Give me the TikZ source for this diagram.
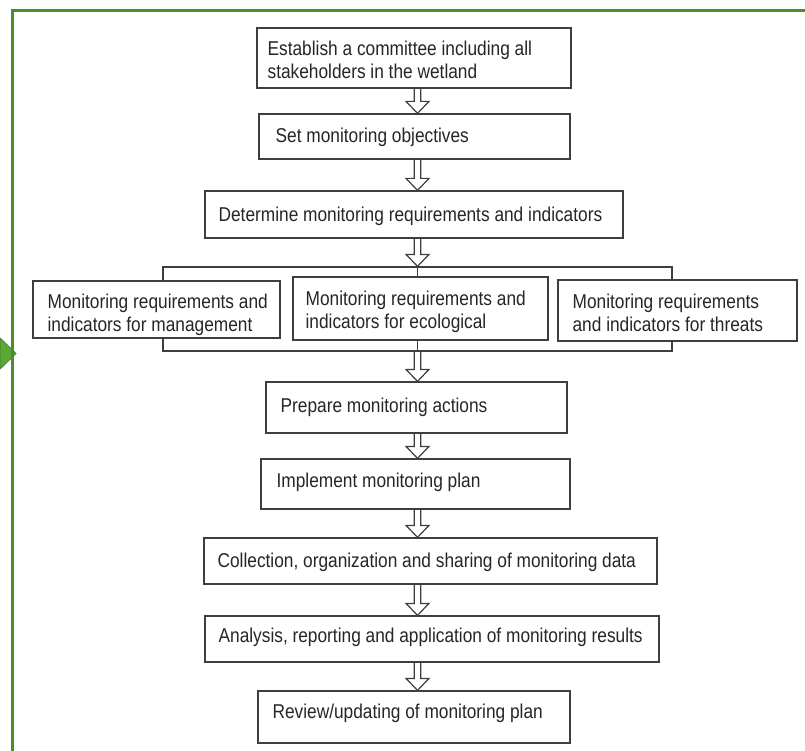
\documentclass[tikz,border=0pt]{standalone}
\usepackage{fontspec}
\setmainfont[FakeStretch=0.865]{Liberation Sans}
\usetikzlibrary{calc}

\definecolor{framegreen}{RGB}{76,140,43}
\definecolor{tabgreen}{RGB}{90,168,55}
\definecolor{boxgray}{RGB}{62,62,62}
\definecolor{textgray}{RGB}{38,38,38}

\tikzset{every picture/.style={line width=1.2pt}}
\tikzset{
  stagebox/.style={draw=boxgray, fill=white, inner sep=0pt},
  stagetext/.style={anchor=north west, inner sep=0pt, align=left, text=textgray, font=\fontsize{20}{23}\selectfont},
  thinlink/.style={draw=boxgray},
  hollowarrow/.style={draw=boxgray, to path={
    ($(\tikztostart)+(-3.25,0)$) -- ($(\tikztotarget)+(-3.25,-12)$) -- ($(\tikztotarget)+(-11.5,-12)$) -- (\tikztotarget) -- ($(\tikztotarget)+(11.5,-12)$) -- ($(\tikztotarget)+(3.25,-12)$) -- ($(\tikztostart)+(3.25,0)$)}},
}

\begin{document}
\begin{tikzpicture}[x=1pt,y=1pt,yscale=-1,xscale=1]
\useasboundingbox (0,0) rectangle (805,751);

%Shape: Frame tab
\filldraw [fill=tabgreen, draw=framegreen, line width=1pt] (0,338) -- (16,353.5) -- (0,369) -- cycle ;
%Shape: Frame
\draw [framegreen, line width=3pt] (12.5,770) -- (12.5,10.5) -- (820,10.5) ;

%Coordinate: arrow spine
\coordinate (spine) at (417.5,0) ;

%Shape: Boxes
\node [stagebox, minimum width=314pt, minimum height=60pt] (establish) at (414,58) {};
\node [stagebox, minimum width=311pt, minimum height=45pt] (objectives) at (414.5,136.5) {};
\node [stagebox, minimum width=418pt, minimum height=47pt] (determine) at (414,214.5) {};
\node [stagebox, minimum width=509pt, minimum height=84pt] (group) at (417.5,309) {};
\node [stagebox, minimum width=247pt, minimum height=57pt] (management) at (156.5,309.5) {};
\node [stagebox, minimum width=255pt, minimum height=63pt] (ecological) at (420.5,308.5) {};
\node [stagebox, minimum width=239pt, minimum height=61pt] (threats) at (677.5,310.5) {};
\node [stagebox, minimum width=301pt, minimum height=51pt] (prepare) at (416.5,407.5) {};
\node [stagebox, minimum width=309pt, minimum height=50pt] (implement) at (415.5,484) {};
\node [stagebox, minimum width=453pt, minimum height=46pt] (collection) at (430.5,561) {};
\node [stagebox, minimum width=454pt, minimum height=46pt] (analysis) at (432,639) {};
\node [stagebox, minimum width=312pt, minimum height=52pt] (review) at (414,717) {};

%Arrows
\draw [hollowarrow] (spine |- establish.south) to (spine |- objectives.north) ;
\draw [hollowarrow] (spine |- objectives.south) to (spine |- determine.north) ;
\draw [hollowarrow] (spine |- determine.south) to (spine |- group.north) ;
\draw [thinlink] (spine |- group.north) -- (spine |- ecological.north) ;
\draw [thinlink] (spine |- ecological.south) -- (spine |- group.south) ;
\draw [hollowarrow] (spine |- group.south) to (spine |- prepare.north) ;
\draw [hollowarrow] (spine |- prepare.south) to (spine |- implement.north) ;
\draw [hollowarrow] (spine |- implement.south) to (spine |- collection.north) ;
\draw [hollowarrow] (spine |- collection.south) to (spine |- analysis.north) ;
\draw [hollowarrow] (spine |- analysis.south) to (spine |- review.north) ;

% Text Node
\node [stagetext] (establishtxt) at (267,40) {Establish a committee including all\\stakeholders in the wetland};
% Text Node
\node [stagetext] (objectivestxt) at (275,127) {Set monitoring objectives};
% Text Node
\node [stagetext] (determinetxt) at (218,206) {Determine monitoring requirements and indicators};
% Text Node
\node [stagetext] (managementtxt) at (47,293) {Monitoring requirements and\\indicators for management};
% Text Node
\node [stagetext] (ecologicaltxt) at (305,290) {Monitoring requirements and\\indicators for ecological};
% Text Node
\node [stagetext] (threatstxt) at (572,293) {Monitoring requirements\\and indicators for threats};
% Text Node
\node [stagetext] (preparetxt) at (280,397) {Prepare monitoring actions};
% Text Node
\node [stagetext] (implementtxt) at (276,472) {Implement monitoring plan};
% Text Node
\node [stagetext] (collectiontxt) at (217,552) {Collection, organization and sharing of monitoring data};
% Text Node
\node [stagetext] (analysistxt) at (218,627) {Analysis, reporting and application of monitoring results};
% Text Node
\node [stagetext] (reviewtxt) at (272,703) {Review/updating of monitoring plan};

\end{tikzpicture}
\end{document}
